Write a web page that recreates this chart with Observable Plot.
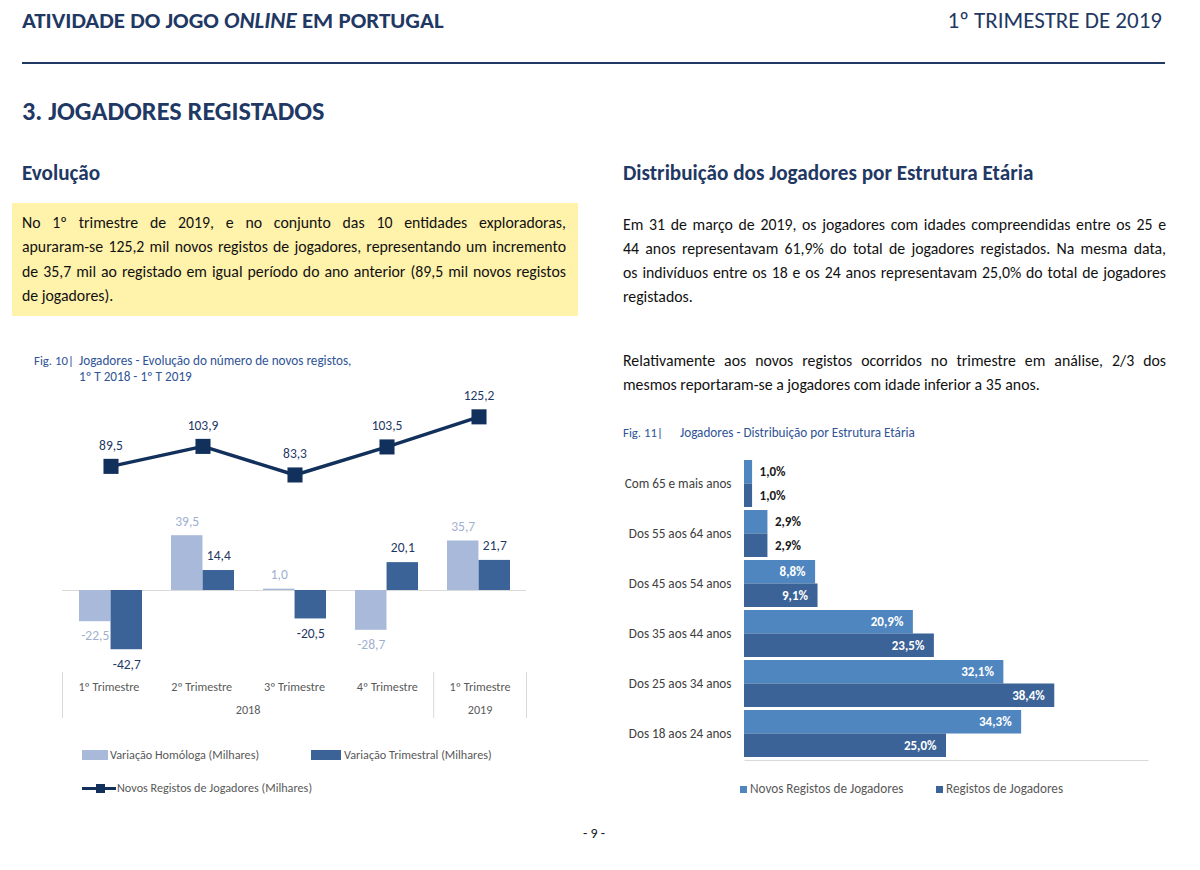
<!DOCTYPE html>
<html><head><meta charset="utf-8">
<script src="https://cdn.jsdelivr.net/npm/d3@7"></script>
<script src="https://cdn.jsdelivr.net/npm/@observablehq/plot@0.6"></script>
<style>
body{margin:0;background:#fff;font-family:Calibri,Carlito,Lato,sans-serif;}
#page{position:relative;width:1200px;height:870px;overflow:hidden;background:#fff;}
.abs{position:absolute;white-space:nowrap;}
.navy{color:#1f3864;}
.ln{position:absolute;white-space:nowrap;text-align:justify;text-align-last:justify;font-size:15.8px;line-height:24px;height:24px;color:#111;}
.ln.last{text-align-last:left;}
.cap{font-size:13.2px;color:#2f5496;line-height:16px;}
.leg{font-size:12.2px;color:#595959;line-height:14px;}
</style></head><body><div id="page">
<div class="abs navy" style="left:22px;top:6px;font-size:23px;font-weight:700;line-height:28px;">ATIVIDADE DO JOGO <i>ONLINE</i> EM PORTUGAL</div>
<div class="abs navy" style="right:38px;top:6px;font-size:23px;line-height:28px;">1º TRIMESTRE DE 2019</div>
<div class="abs" style="left:22px;top:62px;width:1143px;height:2px;background:#1f3864;"></div>
<div class="abs navy" style="left:22px;top:95px;font-size:26.3px;font-weight:700;line-height:32px;">3. JOGADORES REGISTADOS</div>
<div class="abs navy" style="left:22px;top:160px;font-size:21.2px;font-weight:700;line-height:26px;">Evolução</div>
<div class="abs navy" style="left:623px;top:160px;font-size:21.2px;font-weight:700;line-height:26px;">Distribuição dos Jogadores por Estrutura Etária</div>
<div class="abs" style="left:12px;top:203px;width:566px;height:113px;background:#fff2ab;"></div>
<div id="leftText"></div>
<div id="rightText"></div>
<div class="abs cap" style="left:34px;top:353px;font-size:12.8px;">Fig. 10|</div>
<div class="abs cap" style="left:79px;top:353px;">Jogadores - Evolução do número de novos registos,<br>1º T 2018 - 1º T 2019</div>
<div class="abs cap" style="left:623px;top:425px;font-size:12.8px;">Fig. 11|</div>
<div class="abs cap" style="left:680px;top:425px;">Jogadores - Distribuição por Estrutura Etária</div>
<div id="leftChart" class="abs" style="left:0;top:380px;"></div>
<div id="leftAxis" class="abs" style="left:0;top:672px;"></div>
<div id="rightChart" class="abs" style="left:600px;top:440px;"></div>
<div class="abs" style="left:82px;top:750px;width:26px;height:10px;background:#a9b9d9;"></div>
<div class="abs leg" style="left:110px;top:748px;">Variação Homóloga (Milhares)</div>
<div class="abs" style="left:311px;top:750px;width:30px;height:10px;background:#3b6397;"></div>
<div class="abs leg" style="left:344px;top:748px;">Variação Trimestral (Milhares)</div>
<div class="abs" style="left:82px;top:787px;width:34px;height:3px;background:#12305c;"></div>
<div class="abs" style="left:96px;top:784px;width:9px;height:9px;background:#12305c;"></div>
<div class="abs leg" style="left:117px;top:781px;">Novos Registos de Jogadores (Milhares)</div>
<div class="abs" style="left:740px;top:786px;width:7px;height:7px;background:#4f86c0;"></div>
<div class="abs leg" style="left:750px;top:782px;font-size:13.2px;">Novos Registos de Jogadores</div>
<div class="abs" style="left:936px;top:786px;width:7px;height:7px;background:#3b6397;"></div>
<div class="abs leg" style="left:946px;top:782px;font-size:13.2px;">Registos de Jogadores</div>
<div class="abs" style="left:574px;top:825px;width:40px;text-align:center;font-size:14px;color:#222;">- 9 -</div>
</div>
<script>
// ---- text ----
const leftLines = [
  "No 1º trimestre de 2019, e no conjunto das 10 entidades exploradoras,",
  "apuraram-se 125,2 mil novos registos de jogadores, representando um incremento",
  "de 35,7 mil ao registado em igual período do ano anterior (89,5 mil novos registos",
  "de jogadores)."
];
const rightLines1 = [
  "Em 31 de março de 2019, os jogadores com idades compreendidas entre os 25 e",
  "44 anos representavam 61,9% do total de jogadores registados. Na mesma data,",
  "os indivíduos entre os 18 e os 24 anos representavam 25,0% do total de jogadores",
  "registados."
];
const rightLines2 = [
  "Relativamente aos novos registos ocorridos no trimestre em análise, 2/3 dos",
  "mesmos reportaram-se a jogadores com idade inferior a 35 anos."
];
function putLines(el, lines, left, width, tops){
  lines.forEach((t,i)=>{
    const d=document.createElement("div");
    d.className="ln"+(i===lines.length-1?" last":"");
    d.style.left=left+"px";d.style.width=width+"px";d.style.top=tops[i]+"px";
    d.textContent=t;el.appendChild(d);
  });
}
putLines(document.getElementById("leftText"), leftLines, 22, 544, [211,235,260,284]);
putLines(document.getElementById("rightText"), rightLines1, 623, 543, [213,237,261,285]);
putLines(document.getElementById("rightText"), rightLines2, 623, 543, [349,373]);

// ---- data ----
const quarters = ["1º Trimestre","2º Trimestre","3º Trimestre","4º Trimestre","1º Trimestre"];
const years = ["2018","2018","2018","2018","2019"];
const novos = [89.5,103.9,83.3,103.5,125.2];
const homologa = [-22.5,39.5,1.0,-28.7,35.7];
const trimestral = [-42.7,14.4,-20.5,20.1,21.7];

const ages = ["Com 65 e mais anos","Dos 55 aos 64 anos","Dos 45 aos 54 anos","Dos 35 aos 44 anos","Dos 25 aos 34 anos","Dos 18 aos 24 anos"];
const novosPct = [1.0,2.9,8.8,20.9,32.1,34.3];
const registosPct = [1.0,2.9,9.1,23.5,38.4,25.0];

const fmt = v => d3.format(".1f")(v).replace(".", ",").replace("\u2212", "-");
const font = "Calibri, Carlito, Lato, sans-serif";
const cLight = "#a9b9d9", cDark = "#3b6397", cLine = "#12305c";

// ---- left chart ----
const idx = d3.range(quarters.length);
const mL = 62, mR = 74, W = 600;
const pIn = 0.32, pOut = 0.16;
const step = (W - mL - mR) / (idx.length - pIn + 2 * pOut);
const bw = step * (1 - pIn);
const k = 1.387, zeroY = 210;
const yDom = [-60, 135];
const left = Plot.plot({
  width: W, height: 300, marginLeft: mL, marginRight: mR, marginTop: 0, marginBottom: 0,
  style: {fontFamily: font, fontSize: "13.5px", background: "transparent"},
  x: {type: "band", domain: idx, paddingInner: pIn, paddingOuter: pOut, axis: null},
  y: {domain: yDom, range: [zeroY - yDom[0] * k, zeroY - yDom[1] * k], axis: null},
  marks: [
    Plot.ruleY([0], {stroke: "#d9d9d9"}),
    Plot.barY(idx, {x: i => i, y: i => homologa[i], fill: cLight, insetRight: bw / 2}),
    Plot.barY(idx, {x: i => i, y: i => trimestral[i], fill: cDark, insetLeft: bw / 2}),
    Plot.text(idx, {filter: i => homologa[i] >= 0, x: i => i, y: i => homologa[i], text: i => fmt(homologa[i]), dx: -bw / 4, dy: -14, fill: "#9fb0cf"}),
    Plot.text(idx, {filter: i => homologa[i] < 0, x: i => i, y: i => homologa[i], text: i => fmt(homologa[i]), dx: -bw / 4, dy: 14, fill: "#9fb0cf"}),
    Plot.text(idx, {filter: i => trimestral[i] >= 0, x: i => i, y: i => trimestral[i], text: i => fmt(trimestral[i]), dx: bw / 4, dy: -15, fill: "#1f3864"}),
    Plot.text(idx, {filter: i => trimestral[i] < 0, x: i => i, y: i => trimestral[i], text: i => fmt(trimestral[i]), dx: bw / 4, dy: 15, fill: "#1f3864"}),
    Plot.line(idx, {x: i => i, y: i => novos[i], stroke: cLine, strokeWidth: 3.5}),
    Plot.dot(idx, {x: i => i, y: i => novos[i], symbol: "square", r: 8.5, fill: cLine}),
    Plot.text(idx, {x: i => i, y: i => novos[i], text: i => fmt(novos[i]), dy: -21, fill: "#1f3864"})
  ]
});
document.getElementById("leftChart").appendChild(left);

// grouped category axis
const yearGroups = Array.from(d3.group(idx, i => years[i]), ([year, is]) => ({year, lo: d3.min(is) - 0.5, hi: d3.max(is) + 0.5, mid: d3.mean(is)}));
const bounds = Array.from(new Set(yearGroups.flatMap(g => [g.lo, g.hi])));
const axisPlot = Plot.plot({
  width: W, height: 46, marginLeft: mL, marginRight: mR, marginTop: 0, marginBottom: 0,
  style: {fontFamily: font, fontSize: "12.2px", background: "transparent"},
  x: {domain: [-0.5, idx.length - 0.5], axis: null},
  marks: [
    Plot.ruleX(bounds, {stroke: "#d9d9d9"}),
    Plot.text(idx, {x: i => i, text: i => quarters[i], frameAnchor: "top", lineAnchor: "middle", dy: 15, fill: "#595959"}),
    Plot.text(yearGroups, {x: "mid", text: "year", frameAnchor: "bottom", lineAnchor: "middle", dy: -8, fill: "#595959"})
  ]
});
document.getElementById("leftAxis").appendChild(axisPlot);

// ---- right chart ----
const rW = 560, rH = 340, rmL = 144, rmR = 12, rmT = 17, rmB = 20;
const rPin = 0.07, rPout = 0.035;
const rStep = (rH - rmT - rmB) / (ages.length - rPin + 2 * rPout);
const rBw = rStep * (1 - rPin);
const fW = rW - rmL - rmR, fH = rH - rmT - rmB;
const ai = d3.range(ages.length);
const cNovo = "#4f86c0";
const lbl = {fontWeight: 700, fontSize: 13};
const right = Plot.plot({
  width: rW, height: rH, marginLeft: rmL, marginRight: rmR, marginTop: rmT, marginBottom: rmB,
  style: {fontFamily: font, fontSize: "13.2px", color: "#404040", background: "transparent"},
  x: {domain: [0, 50], axis: null},
  y: {type: "band", domain: ages, paddingInner: rPin, paddingOuter: rPout, tickSize: 0, tickPadding: 13, label: null},
  marks: [
    Plot.frame({stroke: "#d9d9d9", strokeDasharray: `0,${fW + fH},${fW},${fH}`}),
    Plot.barX(ai, {y: i => ages[i], x: i => novosPct[i], fill: cNovo, insetBottom: rBw / 2}),
    Plot.barX(ai, {y: i => ages[i], x: i => registosPct[i], fill: cDark, insetTop: rBw / 2}),
    Plot.text(ai, {filter: i => novosPct[i] >= 5, y: i => ages[i], x: i => novosPct[i], text: i => fmt(novosPct[i]) + "%", dy: -rBw / 4, dx: -10, textAnchor: "end", fill: "white", ...lbl}),
    Plot.text(ai, {filter: i => novosPct[i] < 5, y: i => ages[i], x: i => novosPct[i], text: i => fmt(novosPct[i]) + "%", dy: -rBw / 4, dx: 7, textAnchor: "start", fill: "#1a1a1a", ...lbl}),
    Plot.text(ai, {filter: i => registosPct[i] >= 5, y: i => ages[i], x: i => registosPct[i], text: i => fmt(registosPct[i]) + "%", dy: rBw / 4, dx: -10, textAnchor: "end", fill: "white", ...lbl}),
    Plot.text(ai, {filter: i => registosPct[i] < 5, y: i => ages[i], x: i => registosPct[i], text: i => fmt(registosPct[i]) + "%", dy: rBw / 4, dx: 7, textAnchor: "start", fill: "#1a1a1a", ...lbl})
  ]
});
document.getElementById("rightChart").appendChild(right);
</script>
</body></html>
